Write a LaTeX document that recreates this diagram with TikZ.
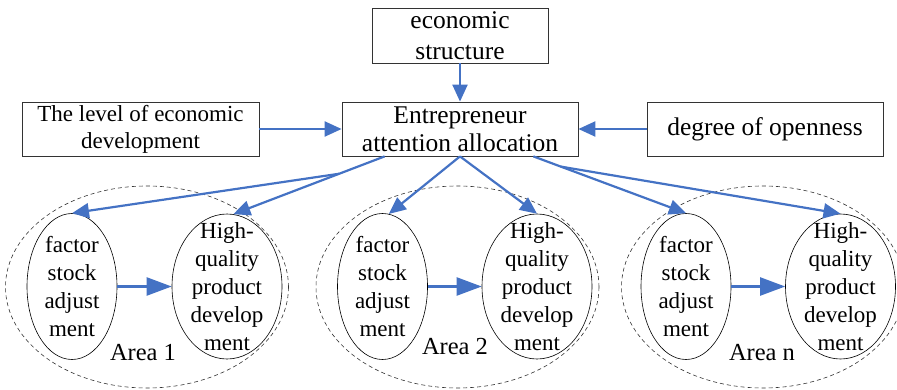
\documentclass[tikz,border=0pt]{standalone}
\usepackage{fontspec}
\setmainfont{Liberation Serif}
\usetikzlibrary{arrows.meta,calc,shapes.geometric}

\definecolor{arrowblue}{RGB}{68,114,196}

\tikzstyle{factorbox} = [draw=black!80, line width=0.8pt, rectangle, align=center, inner sep=0pt]
\tikzstyle{areaoval} = [draw, ellipse, line width=0.6pt, inner sep=0pt]
\tikzstyle{ovaltext} = [align=center, inner sep=0pt, font=\fontsize{23}{28}\selectfont]
\tikzstyle{areaborder} = [draw=black!80, ellipse, dash pattern=on 4pt off 3pt, line width=0.6pt, inner sep=0pt]
\tikzstyle{bluearrow} = [draw=arrowblue, line width=2.2pt, -{Triangle[length=17pt,width=15pt]}, fill=arrowblue]
\tikzstyle{innerarrow} = [bluearrow, -{Triangle[length=25pt,width=18pt]}]

\begin{document}
\begin{tikzpicture}[x=1pt,y=1pt]
\useasboundingbox (0,0) rectangle (897,389);

% influencing factors
\node[factorbox, minimum width=176pt, minimum height=55pt, font=\fontsize{25.5}{31}\selectfont] (econ) at (460,353.5) {economic\\structure};
\node[factorbox, minimum width=236pt, minimum height=54pt, font=\fontsize{25.5}{28}\selectfont] (attn) at (460,260) {Entrepreneur\\attention allocation};
\node[factorbox, minimum width=237pt, minimum height=54pt, font=\fontsize{23}{27}\selectfont] (level) at (140.5,260) {The level of economic\\development};
\node[factorbox, minimum width=236pt, minimum height=54pt, font=\fontsize{25.5}{30}\selectfont] (open) at (765,260) {degree of openness};

% areas
\foreach \i/\fx/\hx/\dx/\ax/\ay in {1/72/227/147/143/36, 2/382.5/537/457.5/455/42, n/686/840.5/763/762/36}{
  \node[areaborder, minimum width=283pt, minimum height=202pt] (area\i) at (\dx,102) {};
  \node[areaoval, minimum width=90pt, minimum height=146pt] (fac\i) at (\fx,102.5) {};
  \node[ovaltext] (fact\i) at (fac\i) {factor\\stock\\adjust\\ment};
  \node[areaoval, minimum width=110pt, minimum height=145pt] (hq\i) at (\hx,102.5) {};
  \node[ovaltext] (hqt\i) at (hq\i) {High-\\quality\\product\\develop\\ment};
  \node[font=\fontsize{24.5}{28}\selectfont] (lab\i) at (\ax,\ay) {Area \i};
  \draw[innerarrow] (fac\i) -- (hq\i);
}

% arrows
\draw[bluearrow] (econ) -- (attn);
\draw[bluearrow] (level) -- (attn);
\draw[bluearrow] (open) -- (attn);

\coordinate (lstart) at ($(attn.south west)+(43,0)$);
\coordinate (rstart) at ($(attn.south east)+(-45,0)$);
\draw[bluearrow] (lstart) -- (hq1.85);
\draw[bluearrow] ($(lstart)!0.3!(hq1.85)$) -- (fac1.north);
\draw[bluearrow] (attn.south) -- (fac2.85);
\draw[bluearrow] (attn.south) -- (hq2.north);
\draw[bluearrow] (rstart) -- (facn.north);
\draw[bluearrow] ($(rstart)!0.18!(facn.north)$) -- (hqn.north);
\end{tikzpicture}
\end{document}
